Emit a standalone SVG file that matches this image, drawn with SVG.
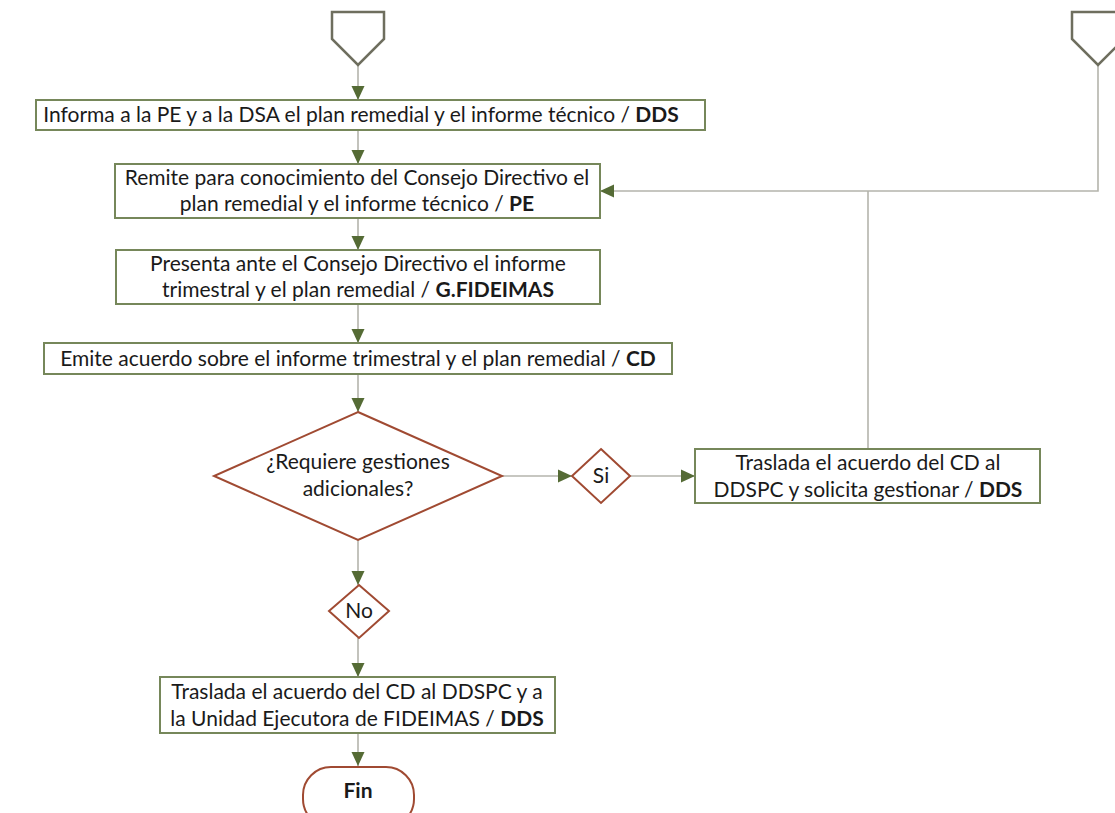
<svg xmlns="http://www.w3.org/2000/svg" width="1115" height="813" viewBox="0 0 1115 813">
<defs>
<style>
.box{fill:#fff;stroke:#76875a;stroke-width:2}
.dec{fill:#fff;stroke:#a04a32;stroke-width:2}
.off{fill:#fff;stroke:#6e6e5e;stroke-width:2.5}
.ln{fill:none;stroke:#b4b4ac;stroke-width:1.6}
.t{font-family:Lato,"Liberation Sans",sans-serif;font-size:21px;fill:#1a1a1a;text-anchor:middle}
.b{font-weight:bold}
</style>
<marker id="ah" viewBox="0 0 14 14" refX="14" refY="7" markerWidth="14" markerHeight="14" markerUnits="userSpaceOnUse" orient="auto">
<path d="M0,0.5 L14,7 L0,13.5 Z" fill="#556b35"/>
</marker>
</defs>
<rect width="1115" height="813" fill="#fff"/>
<g id="connectors">
<line class="ln" x1="358" y1="65" x2="358" y2="100" marker-end="url(#ah)"/>
<line class="ln" x1="358" y1="130" x2="358" y2="164" marker-end="url(#ah)"/>
<line class="ln" x1="358" y1="218" x2="358" y2="250" marker-end="url(#ah)"/>
<line class="ln" x1="358" y1="304" x2="358" y2="343" marker-end="url(#ah)"/>
<line class="ln" x1="358" y1="374" x2="358" y2="412" marker-end="url(#ah)"/>
<line class="ln" x1="502" y1="476" x2="572" y2="476" marker-end="url(#ah)"/>
<line class="ln" x1="630" y1="476" x2="695" y2="476" marker-end="url(#ah)"/>
<polyline class="ln" points="868,449 868,191"/>
<polyline class="ln" points="1098,65 1098,191 600,191" marker-end="url(#ah)"/>
<line class="ln" x1="358" y1="540" x2="358" y2="585" marker-end="url(#ah)"/>
<line class="ln" x1="358" y1="638" x2="358" y2="677" marker-end="url(#ah)"/>
<line class="ln" x1="358" y1="733" x2="358" y2="766" marker-end="url(#ah)"/>
</g>
<g id="off1"><path class="off" d="M332,12 L384,12 L384,39 L358,65 L332,39 Z"/></g>
<g id="off2"><path class="off" d="M1072,12 L1124,12 L1124,39 L1098,65 L1072,39 Z"/></g>
<g id="n1">
<rect class="box" x="36" y="100" width="669" height="30"/>
<text class="t" x="361" y="122">Informa a la PE y a la DSA el plan remedial y el informe técnico / <tspan class="b">DDS</tspan></text>
</g>
<g id="n2">
<rect class="box" x="115" y="164" width="485" height="54"/>
<text class="t" x="357" y="185">Remite para conocimiento del Consejo Directivo el</text>
<text class="t" x="357" y="211">plan remedial y el informe técnico / <tspan class="b">PE</tspan></text>
</g>
<g id="n3">
<rect class="box" x="116" y="250" width="484" height="54"/>
<text class="t" x="358" y="271">Presenta ante el Consejo Directivo el informe</text>
<text class="t" x="358" y="297">trimestral y el plan remedial / <tspan class="b">G.FIDEIMAS</tspan></text>
</g>
<g id="n4">
<rect class="box" x="44" y="343" width="628" height="31"/>
<text class="t" x="358" y="366">Emite acuerdo sobre el informe trimestral y el plan remedial / <tspan class="b">CD</tspan></text>
</g>
<g id="d1">
<path class="dec" d="M358,412 L502,476 L358,540 L214,476 Z"/>
<text class="t" x="358" y="469">¿Requiere gestiones</text>
<text class="t" x="358" y="496">adicionales?</text>
</g>
<g id="si">
<path class="dec" d="M601,449 L630,476 L601,503 L572,476 Z"/>
<text class="t" x="601" y="483">Si</text>
</g>
<g id="n5">
<rect class="box" x="695" y="449" width="345" height="54"/>
<text class="t" x="868" y="470">Traslada el acuerdo del CD al</text>
<text class="t" x="868" y="497">DDSPC y solicita gestionar / <tspan class="b">DDS</tspan></text>
</g>
<g id="no">
<path class="dec" d="M359,585 L389,611 L359,638 L329,611 Z"/>
<text class="t" x="359" y="618">No</text>
</g>
<g id="n6">
<rect class="box" x="160" y="677" width="395" height="56"/>
<text class="t" x="357" y="699">Traslada el acuerdo del CD al DDSPC y a</text>
<text class="t" x="357" y="726">la Unidad Ejecutora de FIDEIMAS / <tspan class="b">DDS</tspan></text>
</g>
<g id="fin">
<rect class="dec" x="303" y="767" width="111" height="60" rx="28" ry="28"/>
<text class="t b" x="358" y="798" fill="#3a2a20">Fin</text>
</g>
</svg>
